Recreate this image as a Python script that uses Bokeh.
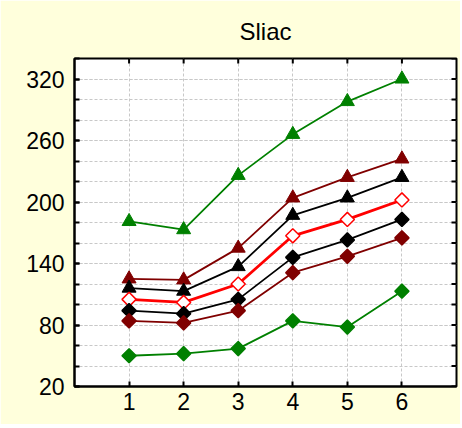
import math
from bokeh.plotting import figure
from bokeh.models import FixedTicker, Range1d
from bokeh.embed import file_html
from bokeh.resources import INLINE

x = [1, 2, 3, 4, 5, 6]
green_tri = [181, 173, 226, 266, 298, 320]
darkred_tri = [125, 124, 155, 204, 224, 242]
black_tri = [116, 113, 137, 187, 204, 224]
red_open = [105, 102, 120, 167, 183, 202]
black_dia = [94, 91, 105, 146, 163, 183]
darkred_dia = [84, 82, 94, 131, 147, 165]
green_dia = [50, 52, 57, 84, 78, 113]

y_major = [20, 80, 140, 200, 260, 320]
y_all = list(range(20, 341, 20))
x_min, x_max = 0, 7
y_min, y_max = 20, 340

FONT = "Liberation Sans"
YELLOW = "#FFFFDC"

p = figure(frame_width=382, frame_height=328, output_backend="svg", toolbar_location=None,
           x_range=Range1d(x_min, x_max), y_range=Range1d(y_min, y_max),
           title="Sliac", min_border_left=74, min_border_right=4,
           min_border_top=58, min_border_bottom=38)
p.border_fill_color = YELLOW
p.background_fill_color = "white"
p.outline_line_color = "black"
p.outline_line_width = 2
p.title.align = "center"
p.title.vertical_align = "top"
p.title.text_font = FONT
p.title.text_font_size = "24px"
p.title.text_font_style = "normal"
p.title.text_color = "black"
p.title.standoff = 24

p.xaxis.ticker = FixedTicker(ticks=x)
p.yaxis.ticker = FixedTicker(ticks=y_major, minor_ticks=y_all)

for ax in [p.xaxis[0], p.yaxis[0]]:
    ax.axis_line_color = "black"
    ax.axis_line_width = 2
    ax.major_tick_in = 5
    ax.major_tick_out = 0
    ax.minor_tick_in = 5
    ax.minor_tick_out = 0
    ax.major_tick_line_width = 2
    ax.minor_tick_line_width = 2
    ax.major_label_text_font = FONT
    ax.major_label_text_font_size = "23px"
    ax.major_label_text_color = "black"
p.xaxis.major_label_standoff = 6
p.yaxis.major_label_standoff = 10

p.xgrid.grid_line_color = "#C8C8C8"
p.xgrid.grid_line_dash = "3 2"
p.ygrid.grid_line_color = "#C8C8C8"
p.ygrid.grid_line_dash = "3 2"
p.ygrid.minor_grid_line_color = "#C8C8C8"
p.ygrid.minor_grid_line_dash = "3 2"

# tick marks on the right and top frame edges (half of each dash is clipped)
p.scatter([x_max] * len(y_all), y_all, marker="dash", size=10,
          line_color="black", line_width=2)
p.scatter(x, [y_max] * len(x), marker="dash", angle=math.pi / 2, size=10,
          line_color="black", line_width=2)

GREEN = "#008000"
DRED = "#800000"

def tri(ys, color):
    p.line(x, ys, line_color=color, line_width=1.8)
    p.scatter(x, ys, marker="triangle", size=14, fill_color=color, line_color=color)

def dia(ys, color, fill, lw=1.8):
    p.line(x, ys, line_color=color, line_width=lw)
    p.scatter(x, ys, marker="square", angle=math.pi / 4, size=10,
              fill_color=fill, line_color=color, line_width=1.5)

tri(green_tri, GREEN)
tri(darkred_tri, DRED)
tri(black_tri, "black")
dia(red_open, "red", "white", lw=2.8)
dia(black_dia, "black", "black")
dia(darkred_dia, DRED, DRED)
dia(green_dia, GREEN, GREEN)

open("out.html", "w").write(file_html(p, INLINE))
